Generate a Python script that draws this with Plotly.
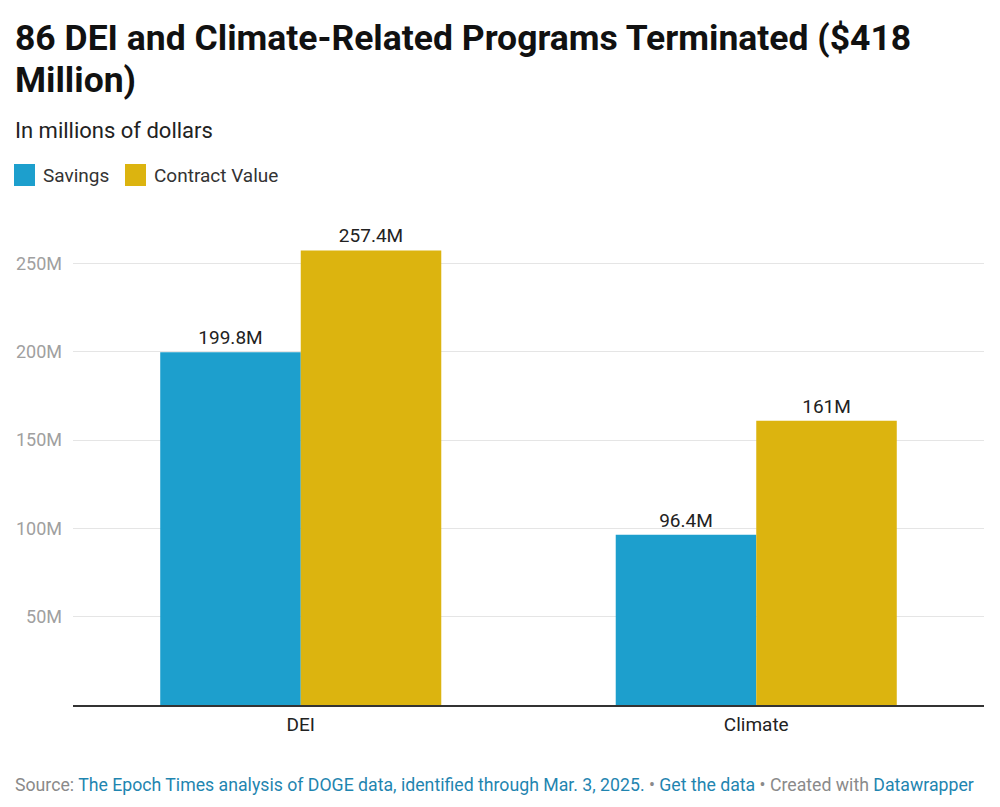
import plotly.graph_objects as go

categories = ["DEI", "Climate"]
savings = [199.8, 96.4]
contract_value = [257.4, 161.0]
series_names = ["Savings", "Contract Value"]
tick_values = [50, 100, 150, 200, 250]

BLUE = "#1d9fcd"
GOLD = "#dcb40f"
FONT = "Roboto"
colors = [BLUE, GOLD]

W, H = 1000, 807
L, R, T, B = 73, 16, 230, 102
PW, PH = W - L - R, H - T - B

def px_x(x):
    return (x - L) / PW

def px_y(y):
    return 1 - (y - T) / PH

def fmt(v):
    return f"{v:g}M"

fig = go.Figure()
for name, vals, col in zip(series_names, [savings, contract_value], colors):
    fig.add_trace(go.Bar(
        x=categories, y=vals, name=name, marker=dict(color=col, line=dict(width=0)),
        text=[fmt(v) for v in vals], textposition="outside",
        textfont=dict(family=FONT, size=19, color="#222"), cliponaxis=False,
        showlegend=False,
    ))

fig.update_layout(
    width=W, height=H,
    margin=dict(l=L, r=R, t=T, b=B),
    paper_bgcolor="white", plot_bgcolor="white",
    barmode="group", bargap=0.383, bargroupgap=0,
    font=dict(family=FONT, color="#222"),
    showlegend=False,
    xaxis=dict(range=[-0.5, 1.5], showline=True, linecolor="#333", linewidth=1.5,
               tickfont=dict(size=19, color="#222"), ticks="", showgrid=False,
               ticklabelstandoff=1),
    yaxis=dict(range=[0, 269], tickvals=tick_values, ticktext=[f"{v}M" for v in tick_values],
               tickfont=dict(size=18, color="#a0a0a0"), showgrid=True, gridcolor="#e5e5e5",
               gridwidth=1, zeroline=False, ticks="", ticklabelstandoff=10),
)

# Title (two lines)
fig.add_annotation(xref="paper", yref="paper", x=px_x(13), y=px_y(38), xanchor="left", yanchor="middle",
                   showarrow=False, text="<b>86 DEI and Climate-Related Programs Terminated ($418</b>",
                   font=dict(family=FONT, size=35.5, color="#111"))
fig.add_annotation(xref="paper", yref="paper", x=px_x(13), y=px_y(80), xanchor="left", yanchor="middle",
                   showarrow=False, text="<b>Million)</b>",
                   font=dict(family=FONT, size=35.5, color="#111"))
# Subtitle
fig.add_annotation(xref="paper", yref="paper", x=px_x(13), y=px_y(130), xanchor="left", yanchor="middle",
                   showarrow=False, text="In millions of dollars",
                   font=dict(family=FONT, size=22, color="#222"))

# Legend (custom squares + labels)
legend_x = [14, 125]
for lx, name, col in zip(legend_x, series_names, colors):
    fig.add_shape(type="rect", xref="paper", yref="paper",
                  x0=px_x(lx), x1=px_x(lx + 21), y0=px_y(186), y1=px_y(164),
                  fillcolor=col, line=dict(width=0))
    fig.add_annotation(xref="paper", yref="paper", x=px_x(lx + 27), y=px_y(175), xanchor="left",
                       yanchor="middle", showarrow=False, text=name,
                       font=dict(family=FONT, size=19, color="#333"))

# Footer
fig.add_annotation(xref="paper", yref="paper", x=px_x(13), y=px_y(785), xanchor="left", yanchor="middle",
                   align="left", showarrow=False,
                   text=("<span style='color:#8a8a8a'>Source: </span>"
                         "<span style='color:#1f85b0'>The Epoch Times analysis of DOGE data, identified through Mar. 3, 2025.</span>"
                         "<span style='color:#8a8a8a'> • </span><span style='color:#1f85b0'>Get the data</span>"
                         "<span style='color:#8a8a8a'> • Created with </span><span style='color:#1f85b0'>Datawrapper</span>"),
                   font=dict(family=FONT, size=17.7))

fig.write_html("out.html")
